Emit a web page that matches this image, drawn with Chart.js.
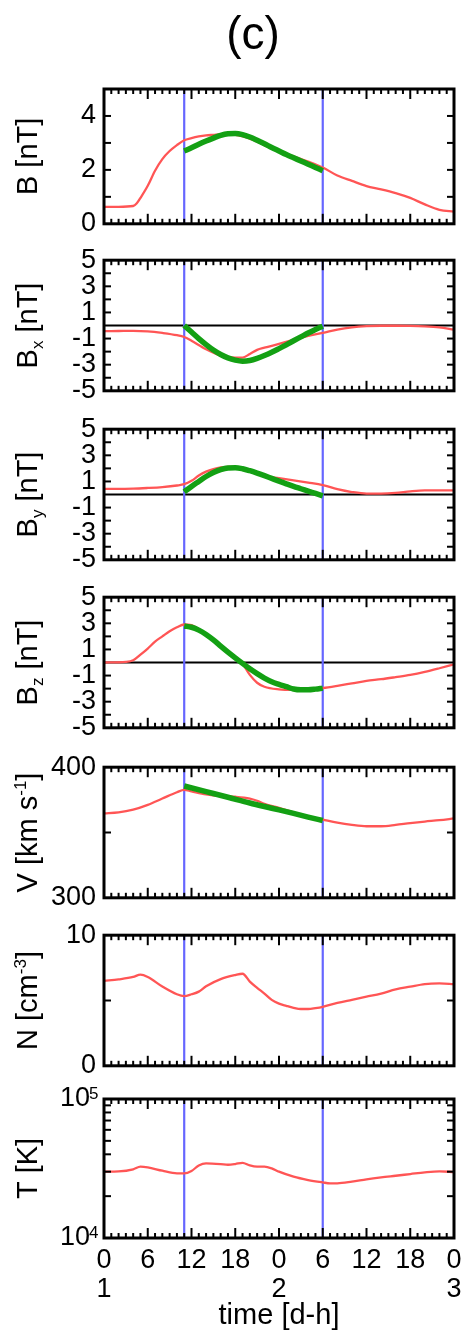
<!DOCTYPE html>
<html>
<head>
<meta charset="utf-8">
<title>(c)</title>
<script src="https://cdn.jsdelivr.net/npm/chart.js@4.4.0/dist/chart.umd.min.js"></script>
<style>
  html, body { margin: 0; padding: 0; background: #fff; }
  #stack { position: relative; width: 465px; height: 1333px; overflow: hidden; }
  #stack canvas { position: absolute; left: 0; }
</style>
</head>
<body>
<div id="stack"></div>
<script>
// ---- time axis (hours from start of day 1) ----
const hourTickValues = [0, 6, 12, 18, 24, 30, 36, 42, 48];
const hourTickLabels = ['0', '6', '12', '18', '0', '6', '12', '18', '0'];
const dayTickLabels  = ['1', '', '', '', '2', '', '', '', '3'];
const boundaryHours  = [11, 30];
const fitTime = [11, 12, 13, 14, 15, 16, 17, 18, 19, 20, 21, 22, 23, 24, 25, 26, 27, 28, 29, 30];

// ---- |B| [nT] ----
const bTime = [0, 2, 4, 4.5, 5, 6, 7, 8, 9, 10, 11, 12, 13, 14, 15, 16, 18, 20, 22, 24, 26, 28, 30, 32, 34, 36, 38, 40, 42, 44, 46, 48];
const bObs  = [0.63, 0.63, 0.66, 0.76, 0.96, 1.41, 1.97, 2.40, 2.70, 2.92, 3.10, 3.18, 3.24, 3.28, 3.30, 3.32, 3.30, 3.16, 2.92, 2.68, 2.50, 2.31, 2.09, 1.79, 1.59, 1.40, 1.28, 1.14, 0.96, 0.72, 0.52, 0.45];
const bFit  = [2.70, 2.82, 2.95, 3.07, 3.18, 3.28, 3.34, 3.35, 3.31, 3.22, 3.10, 2.97, 2.83, 2.70, 2.57, 2.45, 2.33, 2.21, 2.09, 1.97];

// ---- Bx [nT] ----
const bxTime = [0, 2, 4, 6, 8, 10, 11, 12, 14, 16, 18, 19, 20, 21, 22, 24, 26, 28, 30, 32, 34, 36, 38, 40, 42, 44, 46, 48];
const bxObs  = [-0.43, -0.42, -0.41, -0.45, -0.57, -0.74, -0.88, -1.17, -1.82, -2.30, -2.46, -2.46, -2.18, -1.87, -1.70, -1.41, -1.10, -0.79, -0.57, -0.31, -0.14, -0.05, -0.02, -0.02, -0.03, -0.07, -0.15, -0.31];
const bxFit  = [0, -0.50, -1.00, -1.46, -1.88, -2.22, -2.48, -2.65, -2.73, -2.68, -2.52, -2.30, -2.05, -1.77, -1.48, -1.17, -0.87, -0.57, -0.30, -0.05];

// ---- By [nT] ----
const byTime = [0, 4, 6, 8, 10, 11, 12, 13, 14, 15, 16, 17, 18, 19, 20, 22, 24, 26, 28, 30, 32, 34, 36, 38, 40, 42, 44, 46, 48];
const byObs  = [0.43, 0.45, 0.50, 0.57, 0.69, 0.79, 1.05, 1.45, 1.75, 1.95, 2.08, 2.12, 2.12, 2.00, 1.84, 1.44, 1.25, 1.08, 0.91, 0.72, 0.41, 0.19, 0.07, 0.07, 0.12, 0.24, 0.31, 0.31, 0.31];
const byFit  = [0.20, 0.62, 1.00, 1.38, 1.68, 1.90, 2.03, 2.05, 1.97, 1.82, 1.64, 1.44, 1.23, 1.02, 0.82, 0.62, 0.44, 0.26, 0.08, -0.10];

// ---- Bz [nT] ----
const bzTime = [0, 3, 4, 5, 6, 7, 8, 9, 10, 11, 12, 13, 14, 15, 16, 17, 18, 19, 20, 21, 22, 24, 26, 28, 30, 32, 34, 36, 38, 40, 42, 44, 46, 48];
const bzObs  = [0, 0.05, 0.17, 0.60, 1.07, 1.60, 2.00, 2.39, 2.70, 2.91, 2.86, 2.55, 2.12, 1.68, 1.22, 0.78, 0.36, -0.10, -0.95, -1.55, -1.86, -2.06, -2.10, -2.08, -1.96, -1.79, -1.60, -1.41, -1.28, -1.12, -0.95, -0.72, -0.44, -0.14];
const bzFit  = [2.79, 2.70, 2.48, 2.15, 1.73, 1.26, 0.80, 0.36, -0.07, -0.48, -0.85, -1.19, -1.47, -1.67, -1.85, -2.03, -2.09, -2.09, -2.04, -1.96];

// ---- V [km/s] ----
const vTime = [0, 2, 4, 6, 8, 10, 11, 12, 14, 16, 18, 20, 21, 22, 24, 26, 28, 30, 32, 34, 36, 38, 40, 42, 44, 46, 48];
const vObs  = [364.7, 365.4, 367.5, 371.2, 376.0, 380.8, 382.7, 381.5, 379.2, 377.9, 377.4, 376.0, 374.3, 371.9, 368.8, 365.4, 362.3, 359.9, 357.5, 355.8, 354.8, 354.8, 355.8, 357.2, 358.4, 359.4, 360.8];
const vFitTime = [11, 14, 17, 20, 23, 26, 28, 30];
const vFit  = [385.6, 381.3, 377.0, 372.6, 368.6, 364.6, 361.8, 359.2];

// ---- N [cm^-3] ----
const nTime = [0, 2, 4, 5, 6, 8, 10, 11, 12, 13, 14, 16, 18, 19, 20, 21, 22, 23, 24, 25, 26, 27, 28, 29, 30, 32, 34, 36, 38, 40, 42, 44, 46, 48];
const nObs  = [6.50, 6.62, 6.80, 6.98, 6.80, 6.07, 5.48, 5.34, 5.48, 5.68, 6.09, 6.64, 6.95, 7.05, 6.45, 5.97, 5.53, 5.05, 4.76, 4.59, 4.44, 4.35, 4.35, 4.42, 4.52, 4.81, 5.05, 5.29, 5.53, 5.85, 6.06, 6.26, 6.31, 6.26];

// ---- T [K] ----
const tTime = [0, 2, 4, 5, 6, 8, 10, 11, 12, 13, 14, 16, 17, 18, 19, 20, 21, 22, 23, 24, 26, 28, 30, 31, 32, 34, 36, 38, 40, 42, 44, 46, 48];
const tObs  = [30000, 30130, 31190, 32600, 32200, 30480, 29170, 29170, 30340, 33270, 34440, 34040, 33650, 34040, 34750, 33270, 32600, 32600, 31700, 30000, 27610, 26120, 25120, 24720, 24720, 25410, 26420, 27290, 28050, 28840, 29650, 30130, 29850];

// ---- axis labels and tick marks ----
const bTickLabels    = [0, 2, 4];
const bTickMarks     = [1, 2, 3, 4];
const compTickLabels = [-5, -3, -1, 1, 3, 5];
const compTickMarks  = [-4, -3, -2, -1, 1, 2, 3, 4];
const vTickLabels    = [300, 400];
const vTickMarks     = [350];
const nTickLabels    = [0, 10];
const nTickMarks     = [5];
const tTickExponents = [4, 5];
const tTickMarks     = [20000, 30000, 40000, 50000, 60000, 70000, 80000, 90000];

// ---- look ----
const FONT  = "'Liberation Sans', Arial, Helvetica, sans-serif";
const RED   = '#ff5555';
const GREEN = '#13a013';
const BLUE  = '#6666ff';
const TICK_FONT = 27;
const LABEL_FONT = 29;

const panelTops = [89, 256, 425, 593, 763, 931, 1099];
const panelHeight = 139;
const pageHeight = 1333;

Chart.defaults.font.family = FONT;
Chart.defaults.color = '#000';

const pts = (ts, vs) => ts.map((t, i) => ({ x: t, y: vs[i] }));

const panels = [
  { label: [['B [nT]', 'n']], obs: pts(bTime, bObs), fit: pts(fitTime, bFit),
    type: 'linear', min: 0, max: 5, labels: bTickLabels, marks: bTickMarks },
  { label: [['B', 'n'], ['x', 'sub'], [' [nT]', 'n']], obs: pts(bxTime, bxObs), fit: pts(fitTime, bxFit),
    type: 'linear', min: -5, max: 5, labels: compTickLabels, marks: compTickMarks, zero: true },
  { label: [['B', 'n'], ['y', 'sub'], [' [nT]', 'n']], obs: pts(byTime, byObs), fit: pts(fitTime, byFit),
    type: 'linear', min: -5, max: 5, labels: compTickLabels, marks: compTickMarks, zero: true },
  { label: [['B', 'n'], ['z', 'sub'], [' [nT]', 'n']], obs: pts(bzTime, bzObs), fit: pts(fitTime, bzFit),
    type: 'linear', min: -5, max: 5, labels: compTickLabels, marks: compTickMarks, zero: true },
  { label: [['V [km s', 'n'], ['-1', 'sup'], [']', 'n']], obs: pts(vTime, vObs), fit: pts(vFitTime, vFit),
    type: 'linear', min: 300, max: 400, labels: vTickLabels, marks: vTickMarks },
  { label: [['N [cm', 'n'], ['-3', 'sup'], [']', 'n']], obs: pts(nTime, nObs), fit: [],
    type: 'linear', min: 0, max: 10, labels: nTickLabels, marks: nTickMarks },
  { label: [['T [K]', 'n']], obs: pts(tTime, tObs), fit: [],
    type: 'logarithmic', min: 10000, max: 100000, exponents: tTickExponents, marks: tTickMarks }
];

function stroke(ctx, x1, y1, x2, y2) {
  ctx.beginPath(); ctx.moveTo(x1, y1); ctx.lineTo(x2, y2); ctx.stroke();
}

// rotated axis title with sub/superscripts
function drawRotatedLabel(ctx, segs, baseX, centerY) {
  ctx.save();
  ctx.translate(baseX, centerY);
  ctx.rotate(-Math.PI / 2);
  ctx.fillStyle = '#000';
  ctx.textBaseline = 'alphabetic';
  ctx.textAlign = 'left';
  const items = segs.map(([text, kind]) => {
    const size = kind === 'n' ? LABEL_FONT : Math.round(LABEL_FONT * 0.6);
    ctx.font = size + 'px ' + FONT;
    return { text, kind, size, w: ctx.measureText(text).width };
  });
  const total = items.reduce((s, it) => s + it.w, 0);
  let x = -total / 2;
  items.forEach(it => {
    ctx.font = it.size + 'px ' + FONT;
    const dy = it.kind === 'sub' ? 6 : it.kind === 'sup' ? -11 : 0;
    ctx.fillText(it.text, x, dy);
    x += it.w;
  });
  ctx.restore();
}

const panelDecor = {
  id: 'panelDecor',
  beforeDatasetsDraw(chart, args, o) {
    const { ctx, chartArea: a, scales: { x, y } } = chart;
    ctx.save();
    if (o.zero) {
      ctx.strokeStyle = '#000'; ctx.lineWidth = 2;
      const py = y.getPixelForValue(0);
      stroke(ctx, a.left, py, a.right, py);
    }
    ctx.strokeStyle = BLUE; ctx.lineWidth = 2.2;
    boundaryHours.forEach(h => {
      const px = x.getPixelForValue(h);
      stroke(ctx, px, a.top, px, a.bottom);
    });
    ctx.restore();
  },
  afterDatasetsDraw(chart, args, o) {
    const { ctx, chartArea: a, scales: { x, y } } = chart;
    ctx.save();
    ctx.strokeStyle = '#000';
    ctx.lineWidth = 2;
    // hourly ticks, longer every 6 h, on top and bottom edges
    for (let h = 0; h <= 48; h++) {
      const px = x.getPixelForValue(h);
      const len = h % 6 === 0 ? 10 : 5;
      stroke(ctx, px, a.bottom, px, a.bottom - len);
      stroke(ctx, px, a.top, px, a.top + len);
    }
    // value ticks on left and right edges
    o.marks.forEach(v => {
      const py = y.getPixelForValue(v);
      stroke(ctx, a.left, py, a.left + 7, py);
      stroke(ctx, a.right, py, a.right - 7, py);
    });
    ctx.lineWidth = 3;
    ctx.strokeRect(a.left, a.top, a.right - a.left, a.bottom - a.top);
    ctx.restore();
  },
  afterDraw(chart, args, o) {
    const { ctx, chartArea: a, scales: { y } } = chart;
    ctx.save();
    drawRotatedLabel(ctx, o.label, a.left - 67, (a.top + a.bottom) / 2);
    if (o.exponents) {
      o.exponents.forEach(e => {
        const py = y.getPixelForValue(Math.pow(10, e));
        ctx.fillStyle = '#000';
        ctx.font = TICK_FONT + 'px ' + FONT;
        ctx.textAlign = 'right'; ctx.textBaseline = 'middle';
        ctx.fillText('10', a.left - 14, py);
        ctx.font = '17px ' + FONT;
        ctx.textAlign = 'left'; ctx.textBaseline = 'alphabetic';
        ctx.fillText(String(e), a.left - 15, py);
      });
    }
    if (o.heading) {
      ctx.fillStyle = '#000';
      ctx.font = '46px ' + FONT;
      ctx.textAlign = 'center'; ctx.textBaseline = 'middle';
      ctx.fillText(o.heading, 253, 36);
    }
    ctx.restore();
  }
};

const stack = document.getElementById('stack');

panels.forEach((p, i) => {
  const first = i === 0;
  const last = i === panels.length - 1;
  const padTop = first ? panelTops[0] : 20;
  const padBottom = last ? 0 : 20;
  const xAxisHeight = last ? pageHeight - panelTops[i] - panelHeight : 0;
  const top = panelTops[i] - padTop;
  const height = padTop + panelHeight + padBottom + xAxisHeight;

  const cv = document.createElement('canvas');
  cv.width = 465; cv.height = height;
  cv.style.top = top + 'px';
  cv.style.width = '465px'; cv.style.height = height + 'px';
  stack.appendChild(cv);

  const datasets = [];
  if (p.fit.length) {
    datasets.push({ data: p.fit, borderColor: GREEN, borderWidth: 5.5, pointRadius: 0,
      cubicInterpolationMode: 'monotone', borderCapStyle: 'butt', order: 0 });
  }
  datasets.push({ data: p.obs, borderColor: RED, borderWidth: 2.3, pointRadius: 0,
    cubicInterpolationMode: 'monotone', order: 1 });

  new Chart(cv, {
    type: 'line',
    data: { datasets },
    options: {
      responsive: false,
      animation: false,
      devicePixelRatio: 1,
      events: [],
      layout: { padding: { top: padTop, bottom: padBottom, left: 0, right: 11 } },
      plugins: {
        legend: { display: false },
        tooltip: { enabled: false },
        panelDecor: { label: p.label, marks: p.marks, zero: !!p.zero,
          exponents: p.exponents || null, heading: first ? '(c)' : null }
      },
      scales: {
        x: {
          type: 'linear', min: 0, max: 48,
          display: last,
          afterFit: s => { s.height = xAxisHeight; s.paddingLeft = 0; s.paddingRight = 0; },
          afterBuildTicks: s => { s.ticks = hourTickValues.map(v => ({ value: v })); },
          grid: { display: false, drawTicks: false },
          border: { display: false },
          ticks: {
            autoSkip: false, maxRotation: 0, padding: 9,
            font: { size: TICK_FONT, lineHeight: 1.04 },
            callback: (v, idx) => [hourTickLabels[idx], dayTickLabels[idx]]
          },
          title: { display: true, text: 'time [d-h]', font: { size: LABEL_FONT }, padding: 0 }
        },
        y: {
          type: p.type, min: p.min, max: p.max,
          afterFit: s => { s.width = 104; },
          afterBuildTicks: s => {
            if (p.labels) s.ticks = p.labels.map(v => ({ value: v }));
          },
          grid: { display: false, drawTicks: false },
          border: { display: false },
          ticks: {
            display: !p.exponents, autoSkip: false, padding: 8,
            font: { size: TICK_FONT },
            callback: v => String(v)
          }
        }
      }
    },
    plugins: [panelDecor]
  });
});
</script>
</body>
</html>
